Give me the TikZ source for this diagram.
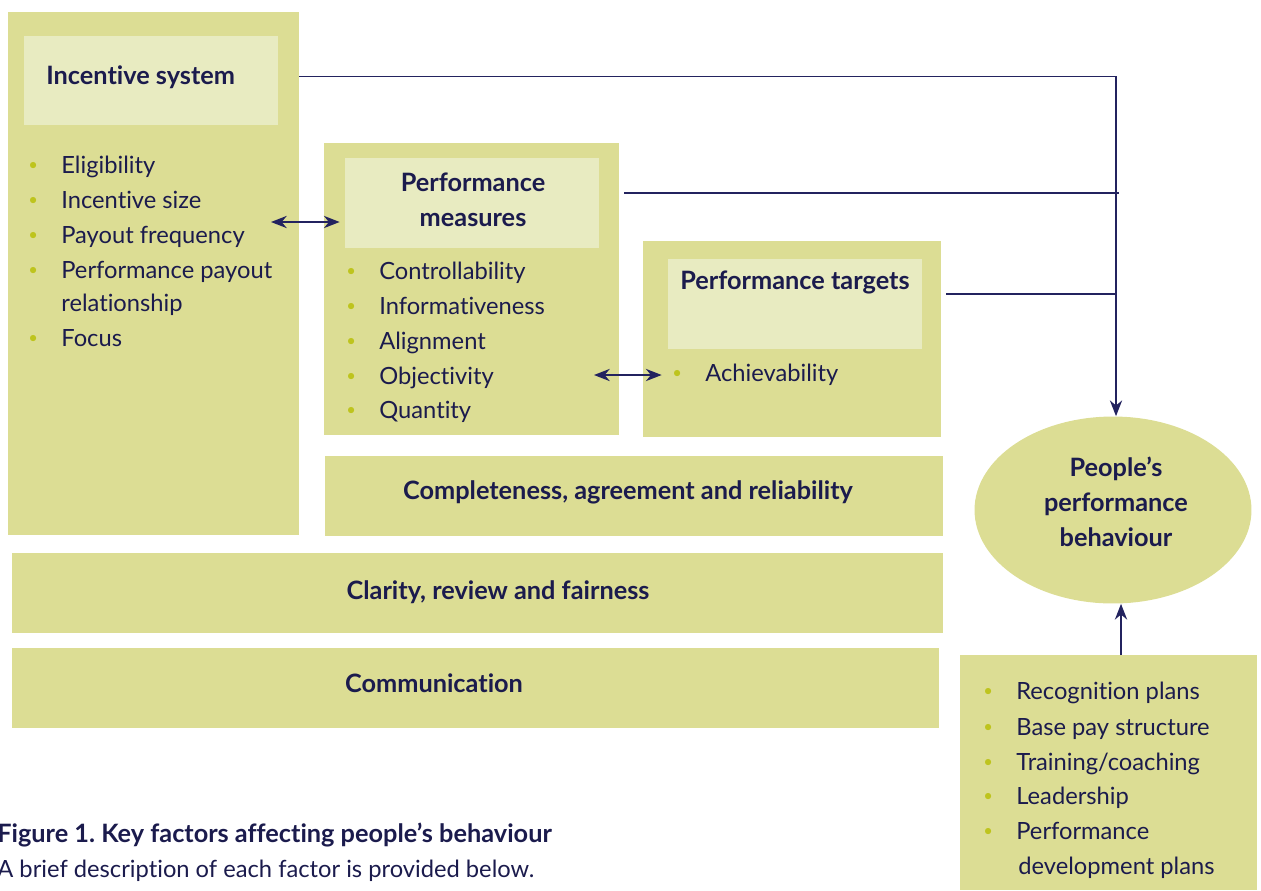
\documentclass[tikz,border=0pt]{standalone}
\usepackage{fontspec}
\setmainfont{Lato}[Ligatures=NoCommon]
\usetikzlibrary{positioning,fit,shapes.geometric,arrows.meta}
\definecolor{boxfill}{RGB}{220,221,148}
\definecolor{titlefill}{RGB}{232,235,193}
\definecolor{navy}{RGB}{27,27,77}
\definecolor{linknavy}{RGB}{35,35,95}
\definecolor{bulletgreen}{RGB}{190,196,30}
\newcommand{\bul}{\makebox[0.66cm][l]{\textcolor{bulletgreen}{\raisebox{0.2ex}{\scalebox{0.7}{\textbullet}}}}}
\frenchspacing
\begin{document}
\begin{tikzpicture}[x=0.02cm,y=-0.02cm,
	outer/.style={fill=boxfill,inner sep=0pt},
	inner/.style={fill=titlefill,inner sep=0pt},
	txt/.style={text=navy,font=\fontsize{13.5}{19.8}\selectfont,inner sep=0pt},
	head/.style={txt,font=\fontsize{14.4}{19.8}\selectfont\bfseries},
	item/.style={txt,anchor=base west},
	link/.style={draw=linknavy,line width=0.8pt},
	onearrow/.style={-{Stealth[length=9pt,width=7pt]}},
	twoarrow/.style={{Stealth[length=9pt,width=7pt]}-{Stealth[length=9pt,width=7pt]}}]
			\useasboundingbox (0,0) rectangle (1261,890);
			% boxes
			\node[outer,fit={(8,12) (299,535)}] (incbox) {};
			\node[inner,fit={(24,36) (278,125)}] (inclite) {};
			\node[outer,fit={(324,143) (619,435)}] (measbox) {};
			\node[inner,fit={(345,158) (599,248)}] (measlite) {};
			\node[outer,fit={(643,241) (941,437)}] (tgtbox) {};
			\node[inner,fit={(668,259) (922,349)}] (tgtlite) {};
			\node[outer,fit={(325,456) (943,536)}] (compbox) {};
			\node[outer,fit={(12,553) (943,633)}] (clarbox) {};
			\node[outer,fit={(12,648) (939,728)}] (commbox) {};
			\node[outer,fit={(960,655) (1257,890)}] (othbox) {};
			\node[outer,ellipse,minimum width=5.54cm,minimum height=3.74cm] (behav) at (1113,510) {};
			% headings
			\node[head,anchor=base west] (inctitle) at (46,84) {Incentive system};
			\node[head,align=center] (meastitle) at (473,200) {Performance\\measures};
			\node[head,anchor=base] (tgttitle) at (795,289) {Performance targets};
			\node[head] (comptxt) at (628,492) {Completeness, agreement and reliability};
			\node[head] (clartxt) at (498,592) {Clarity, review and fairness};
			\node[head] (commtxt) at (434,683) {Communication};
			\node[head,align=center] (behtxt) at (1116,502) {People’s\\performance\\behaviour};
			% lists
			\foreach\y/\t [count=\i] in {173/Eligibility,208/Incentive size,243/Payout frequency,278/Performance payout,346/Focus}{
				\node[item] (inc\i) at (28,\y){\bul\t};
			}
			\node[item] (inc4b) at (61,311){relationship};
			\foreach\y/\t [count=\i] in {279/Controllability,314/Informativeness,349/Alignment,384/Objectivity,418/Quantity}{
				\node[item] (meas\i) at (346,\y){\bul\t};
			}
			\node[item] (tgt1) at (672,381){\bul Achievability};
			\foreach\y/\t [count=\i] in {699/Recognition plans,735/Base pay structure,770/{Training/coaching},804/Leadership,839/Performance}{
				\node[item] (oth\i) at (983,\y){\bul\t};
			}
			\node[item] (oth5b) at (1018,874){development plans};
			% caption
			\node[head,anchor=base west] (capt) at (-3,842){Figure 1. Key factors affecting people’s behaviour};
			\node[item] (capsub) at (-3,877){A brief description of each factor is provided below.};
			% connectors
			\coordinate (m1) at (1119,193);
			\coordinate (t1) at (1116,294);
			\coordinate (a1) at (271,222);
			\coordinate (a2) at (594,375);
			\coordinate (u1) at (1121,655);
			\draw[link,onearrow] (incbox.east |- inctitle) -| ([xshift=0.06cm]behav.north);
			\draw[link] ([xshift=0.1cm]measbox.east |- m1) -- (m1);
			\draw[link] ([xshift=0.1cm]tgtbox.east |- t1) -- (t1);
			\draw[link,twoarrow] (a1) -- ([xshift=-0.1cm]measlite.west |- a1);
			\draw[link,twoarrow] (a2) -- ([xshift=0.38cm]tgtbox.west |- a2);
			\draw[link,onearrow] (u1) -- (u1 |- behav.south);
		\end{tikzpicture}
\end{document}
